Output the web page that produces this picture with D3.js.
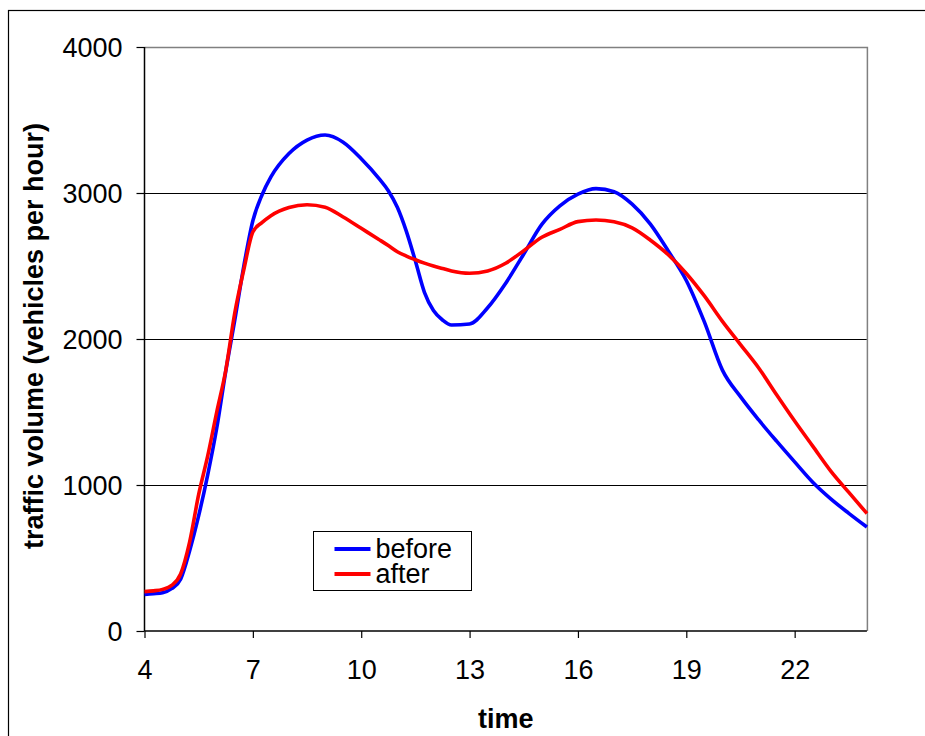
<!DOCTYPE html>
<html>
<head>
<meta charset="utf-8">
<script src="https://cdn.jsdelivr.net/npm/d3@7"></script>
<style>
  body { margin: 0; background: #fff; }
  svg { display: block; font-family: "Liberation Sans", Arial, sans-serif; }
</style>
</head>
<body>
<svg id="chart" width="925" height="736"></svg>
<script>
// hour of day
var hours = [4, 4.25, 4.5, 4.75, 5, 5.25, 5.5, 5.75, 6, 6.25, 6.5, 6.75, 7, 7.25, 7.5,
  8, 8.5, 9, 9.5, 10, 10.5, 10.75, 11, 11.25, 11.5, 11.75, 12, 12.25, 12.5, 13, 13.5, 14, 14.5, 15, 15.5,
  16, 16.5, 17, 17.5, 18, 18.5, 19, 19.5, 20, 20.5, 21, 21.5, 22, 22.5, 23, 23.5, 24];

// vehicles per hour
var before = [250, 255, 262, 290, 355, 550, 790, 1070, 1390, 1780, 2130, 2500, 2810, 2985, 3110,
  3270, 3362, 3397, 3348, 3235, 3097, 3016, 2902, 2737, 2534, 2320, 2195, 2130, 2096, 2103, 2214, 2382, 2582, 2785, 2912,
  2992, 3030, 3009, 2924, 2789, 2603, 2401, 2117, 1787, 1605, 1447, 1300, 1158, 1019, 905, 806, 712];

var after = [270, 275, 285, 312, 390, 610, 935, 1199, 1500, 1786, 2180, 2476, 2733, 2797, 2845,
  2901, 2920, 2903, 2836, 2758, 2680, 2640, 2598, 2568, 2543, 2520, 2500, 2483, 2466, 2450, 2466, 2519, 2605, 2697, 2751,
  2804, 2815, 2803, 2761, 2678, 2577, 2449, 2295, 2121, 1962, 1803, 1618, 1438, 1266, 1095, 949, 805];

var xTicks = [4, 7, 10, 13, 16, 19, 22];
var yTicks = [0, 1000, 2000, 3000, 4000];
var gridValues = [1000, 2000, 3000];

var seriesNames = ["before", "after"];
var seriesColors = ["#0000ff", "#ff0000"];

var svg = d3.select("#chart");

// outer chart frame (right and bottom run off the picture)
svg.append("rect")
  .attr("x", 8.5).attr("y", 10.5)
  .attr("width", 1000).attr("height", 1000)
  .attr("fill", "none").attr("stroke", "#000").attr("stroke-width", 1.2);

var x = d3.scaleLinear().domain([4, 24]).range([144.5, 866.9]);
var y = d3.scaleLinear().domain([0, 4000]).range([631, 47]);

// gridlines
svg.append("g")
  .selectAll("line")
  .data(gridValues)
  .enter().append("line")
  .attr("x1", x(4)).attr("x2", x(24))
  .attr("y1", function (d) { return Math.round(y(d)) + 0.5; })
  .attr("y2", function (d) { return Math.round(y(d)) + 0.5; })
  .attr("stroke", "#000").attr("stroke-width", 1);

// top and right border of plot area
svg.append("path")
  .attr("d", "M" + x(4) + "," + (y(4000) + 0.5) + "H" + (x(24) + 0.5) + "V" + y(0))
  .attr("fill", "none").attr("stroke", "#808080").attr("stroke-width", 1.5);

// axes
var xAxis = svg.append("g")
  .attr("transform", "translate(0," + y(0) + ")")
  .call(d3.axisBottom(x).tickValues(xTicks).tickSizeInner(7).tickSizeOuter(0).tickFormat(d3.format("d")));

var yAxis = svg.append("g")
  .attr("transform", "translate(" + x(4) + ",0)")
  .call(d3.axisLeft(y).tickValues(yTicks).tickSizeInner(8).tickSizeOuter(0).tickPadding(14).tickFormat(d3.format("d")));

[xAxis, yAxis].forEach(function (a) {
  a.select(".domain").attr("stroke", "#000").attr("stroke-width", 1.5);
  a.selectAll(".tick line").attr("stroke", "#000").attr("stroke-width", 1.2);
  a.selectAll("text").attr("font-size", 27).attr("fill", "#000")
    .attr("font-family", "'Liberation Sans', Arial, sans-serif");
});
xAxis.select(".domain").attr("d", "M" + x(4) + ",0H" + x(24));
yAxis.select(".domain").attr("d", "M0," + y(0) + "V" + y(4000));
xAxis.selectAll(".tick text").attr("y", 48).attr("dy", 0);
yAxis.selectAll(".tick text").attr("dy", "0.36em");

// axis titles
svg.append("text")
  .attr("x", (x(4) + x(24)) / 2).attr("y", 728)
  .attr("text-anchor", "middle")
  .attr("font-size", 27).attr("font-weight", "bold")
  .text("time");

svg.append("text")
  .attr("transform", "translate(43," + 336 + ") rotate(-90)")
  .attr("text-anchor", "middle")
  .attr("font-size", 27).attr("font-weight", "bold")
  .text("traffic volume (vehicles per hour)");

// lines
var line = d3.line()
  .x(function (d) { return x(d[0]); })
  .y(function (d) { return y(d[1]); })
  .curve(d3.curveMonotoneX);

[before, after].forEach(function (vals, i) {
  svg.append("path")
    .datum(hours.map(function (h, j) { return [h, vals[j]]; }))
    .attr("fill", "none")
    .attr("stroke", seriesColors[i])
    .attr("stroke-width", 3.6)
    .attr("stroke-linejoin", "round")
    .attr("d", line);
});

// legend
var legend = svg.append("g").attr("transform", "translate(313.5,531.5)");
legend.append("rect")
  .attr("width", 158).attr("height", 59)
  .attr("fill", "#fff").attr("stroke", "#000").attr("stroke-width", 1);

var item = legend.selectAll("g")
  .data(seriesNames)
  .enter().append("g")
  .attr("transform", function (d, i) { return "translate(0," + (17.5 + i * 25) + ")"; });

item.append("line")
  .attr("x1", 21).attr("x2", 57)
  .attr("stroke", function (d, i) { return seriesColors[i]; })
  .attr("stroke-width", 4);

item.append("text")
  .attr("x", 62).attr("y", 9)
  .attr("font-size", 27)
  .text(function (d) { return d; });
</script>
</body>
</html>
